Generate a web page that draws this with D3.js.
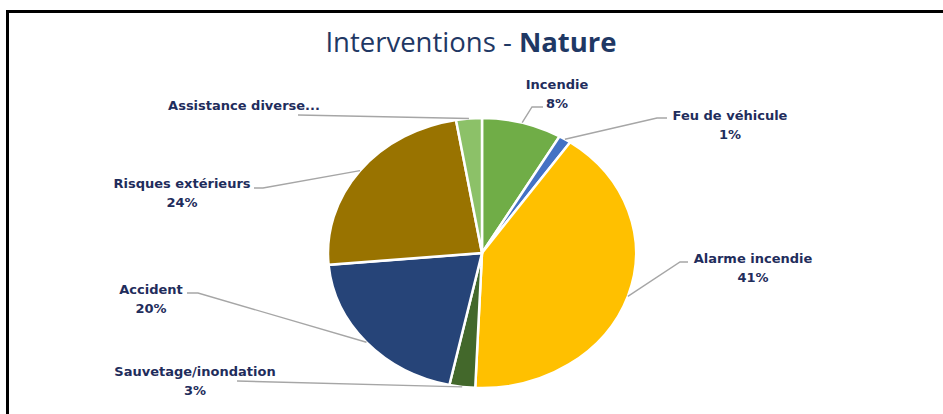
<!DOCTYPE html>
<html>
<head>
<meta charset="utf-8">
<script src="https://cdn.jsdelivr.net/npm/d3@7"></script>
<style>
  body { margin: 0; background: #fff; }
  svg text { font-family: "DejaVu Sans", sans-serif; }
</style>
</head>
<body>
<div id="chart"></div>
<script>
// data
var categories = ["Incendie", "Feu de véhicule", "Alarme incendie", "Sauvetage/inondation", "Accident", "Risques extérieurs", "Assistance diverse..."]
var values = [8.4, 1.3, 41.0, 2.7, 20.2, 23.7, 2.7]
var showPct = [true, true, true, true, true, true, false]
var colors = ["#70ad47", "#4472c4", "#ffc000", "#43682b", "#264478", "#997300", "#8cc168"]

const layout = { width: 943, height: 414, cx: 482, cy: 253, rx: 154, ry: 135 }

// label layout relative to pie center: text center (x, y of first line),
// leader hook end (hx, hy) and optional elbow x (ex)
var labelPos = [
    { x: 75, y: -169, hx: 61, hy: -146, ex: 50 },
    { x: 248, y: -138, hx: 185, hy: -135, ex: 175 },
    { x: 271, y: 5, hx: 206, hy: 9, ex: 198 },
    { x: -287, y: 118, hx: -245, hy: 128, ex: null },
    { x: -331, y: 36, hx: -295, hy: 40, ex: -284 },
    { x: -300, y: -70, hx: -228, hy: -65, ex: -219 },
    { x: -238, y: -148, hx: -184, hy: -138, ex: null }
]

var svg = d3.select("#chart").append("svg")
    .attr("width", layout.width)
    .attr("height", layout.height)

// frame
svg.append("path")
    .attr("d", "M7.5,414 L7.5,11.5 L943,11.5")
    .attr("fill", "none")
    .attr("stroke", "#000")
    .attr("stroke-width", 3)

// title
var title = svg.append("text")
    .attr("x", 471)
    .attr("y", 52)
    .attr("text-anchor", "middle")
    .attr("fill", "#1f3864")
    .style("font-family", "'Open Sans', sans-serif")
    .style("font-size", "27.5px")
title.append("tspan").text("Interventions - ")
title.append("tspan").style("font-weight", "bold").text("Nature")

var pie = d3.pie().sort(null).value(function(d) { return d; })
var arcs = pie(values)
var total = d3.sum(values)

var arc = d3.arc().innerRadius(0).outerRadius(layout.ry)

var g = svg.append("g")
    .attr("transform", `translate(${layout.cx},${layout.cy}) scale(${layout.rx / layout.ry},1)`)

g.selectAll("path")
    .data(arcs)
    .enter().append("path")
    .attr("d", arc)
    .attr("fill", function(d, i) { return colors[i]; })
    .attr("stroke", "#fff")
    .attr("stroke-width", 2.5)
    .attr("vector-effect", "non-scaling-stroke")

var labels = svg.append("g").attr("transform", `translate(${layout.cx},${layout.cy})`)

var fontSize = 13
arcs.forEach(function(d, i) {
    var mid = (d.startAngle + d.endAngle) / 2
    var px = Math.sin(mid) * layout.rx
    var py = -Math.cos(mid) * layout.ry
    var lp = labelPos[i]

    var pts = [[px, py]]
    if (lp.ex !== null) pts.push([lp.ex, lp.hy])
    pts.push([lp.hx, lp.hy])

    labels.append("polyline")
        .attr("points", pts.map(function(p) { return p.join(","); }).join(" "))
        .attr("fill", "none")
        .attr("stroke", "#a6a6a6")
        .attr("stroke-width", 1.4)

    var t = labels.append("text")
        .attr("x", lp.x)
        .attr("y", lp.y)
        .attr("text-anchor", "middle")
        .attr("fill", "#1f2d5c")
        .attr("font-weight", "bold")
        .attr("font-size", fontSize)
    t.append("tspan").attr("x", lp.x).attr("dy", "0.35em").text(categories[i])
    if (showPct[i]) {
        t.append("tspan").attr("x", lp.x).attr("dy", 19).text(Math.round(d.value / total * 100) + "%")
    }
})
</script>
</body>
</html>
